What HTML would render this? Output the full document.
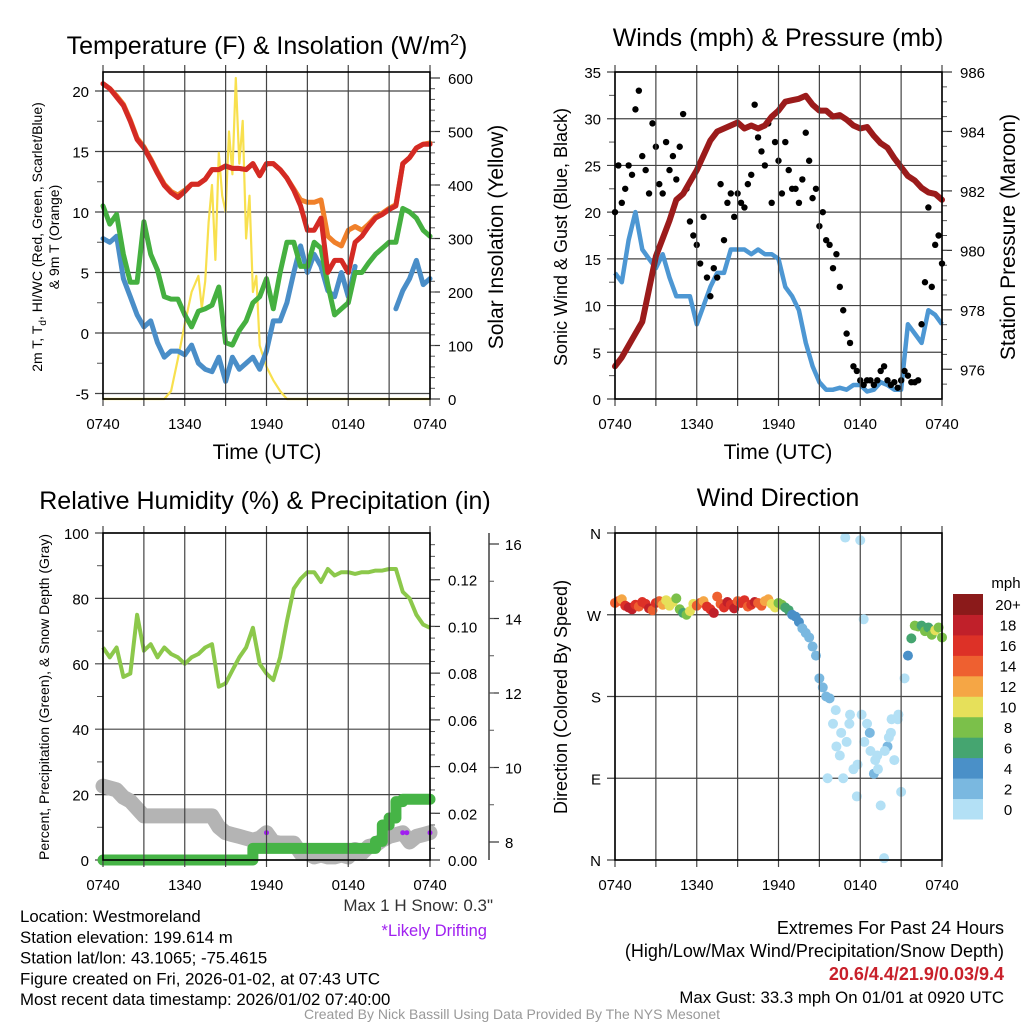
<!DOCTYPE html>
<html><head><meta charset="utf-8"><style>
body{margin:0;background:#fff;}
svg{display:block;font-family:"Liberation Sans",Arial,sans-serif;}
</style></head><body>
<svg id="s" width="1024" height="1024" viewBox="0 0 1024 1024"></svg>
<script>
// ---------- DATA ----------
const timeLabels=["0740","1340","1940","0140","0740"];
const halfHours=[0,0.5,1,1.5,2,2.5,3,3.5,4,4.5,5,5.5,6,6.5,7,7.5,8,8.5,9,9.5,10,10.5,11,11.5,12,12.5,13,13.5,14,14.5,15,15.5,16,16.5,17,17.5,18,18.5,19,19.5,20,20.5,21,21.5,22,22.5,23,23.5,24];
const temp2m=[20.6,20.2,19.5,18.8,17.5,16,15.3,14.3,13.2,12.2,11.6,11.2,11.7,12.3,12.3,12.7,13.5,13.5,13.8,13.6,13.6,13.5,14,13,14,14,13.5,12.8,11.8,10.5,8.5,8.5,9.5,5,6,6,5,7.5,8,8.8,9.5,9.8,10.2,10.5,14,14.5,15.3,15.6,15.6];
const temp9m=[20.6,20.2,19.6,18.9,17.6,16.1,15.4,14.4,13.3,12.3,11.7,11.4,11.8,12.3,12.3,12.7,13.5,13.5,13.8,13.6,13.6,13.5,14,13,14,14,13.5,12.8,11.9,11,10.8,10.8,11,8,7.5,7.2,8.5,8.8,8.5,9,9.6,9.9,10.3,10.6,14,14.5,15.3,15.6,15.7];
const dewpoint=[10.5,9,9.8,6.5,4.2,4.2,9.2,6.5,5.2,3,2.8,2.8,1.5,0.5,1.8,2,2.3,3.8,-0.8,-1,0.2,1,2.5,3,4.5,2,5,7.5,7.5,5.5,5.5,7.5,7,4,1.5,2,2.5,5,5,5.8,6.5,7,7.5,7.5,10.3,10,9.5,8.5,8];
const windChill=[7.8,7.5,8,4.5,3,1.5,0.5,1,-0.8,-2,-1.5,-1.5,-1.8,-1,-2.5,-3,-3.2,-2,-4,-2,-3,-2.5,-2,-3,-1.5,1,1,2.5,5,7.2,5,6.5,5.5,3.5,3,5,3,5.5,null,null,null,7.5,null,2,3.5,4.5,6,4,4.5];
const insTimes=[0,4.5,5,5.5,6,6.5,7,7.25,7.5,7.75,8,8.25,8.5,8.75,9,9.25,9.5,9.75,10,10.25,10.5,10.75,11,11.25,11.5,12,12.5,13,13.5,14,24];
const insValues=[0,0,15,75,140,200,230,170,220,330,400,260,460,380,350,500,420,600,440,520,300,380,200,230,100,60,35,15,0,0,0];
const windSpeed=[13.5,12.5,17,20,16,15,14,15.5,13,11,11,11,8,10,12,13.5,13.5,16,16,16,15.5,16,15.5,15.5,15,12,11,9.5,6,3.5,1.8,1,1,1.2,1,1.5,1.5,0.8,1,1.8,1.5,1,1,8,7,6,9.5,9,8];
const gustValues=[20,25,21,22.5,25,24,31,33,26,24.5,22,29.5,27,23,22,27.5,24.5,26,23.5,27,30.5,22.5,19,17.5,16.5,14.5,19.5,13,11,14,13,23,17,21,22,19.5,22,21,20.5,23,24,31.5,28,26.5,25,29.5,21,27.5,25.5,22,27.5,24.5,22.5,22.5,21,23.5,28.5,25.5,21.5,22.5,18.5,20,17,16.5,14,15.5,12,9.5,7,6,3.5,3,2,1.5,2,2,1.5,2,3,3.5,2,1.5,1.8,1.2,2,3,2.5,1.8,1.8,2,8,12.5,20.5,12,16.5,17.5,14.5];
const pressure=[976.1,976.4,976.8,977.2,977.6,978.7,979.8,980.4,981,981.7,981.9,982.3,982.7,983.2,983.7,984,984.1,984.2,984.3,984.1,984.2,984.1,984.2,984.5,984.7,985,985.05,985.1,985.2,984.9,984.7,984.7,984.5,984.55,984.4,984.2,984.1,984.15,983.85,983.6,983.45,983.1,982.8,982.5,982.35,982.1,981.95,981.9,981.7];
const relHum=[65,62,65,56,57,75,64,66,62,65,63,62,60,62,63,65,66,53,54,58,62,65,71,60,57,55,62,73,83,86,88,88,85,89,87,88,88,87.5,88,88,88.5,88.5,89,89,82,80,75,72,71];
const precip=[0,0,0,0,0,0,0,0,0,0,0,0,0,0,0,0,0,0,0,0,0,0,0.005,0.005,0.005,0.005,0.005,0.005,0.005,0.005,0.005,0.005,0.005,0.005,0.005,0.005,0.005,0.005,0.005,0.005,0.008,0.015,0.018,0.025,0.026,0.026,0.026,0.026,0.026];
const snowDepth=[9.5,9.45,9.4,9.2,9.1,8.9,8.7,8.7,8.7,8.7,8.7,8.7,8.7,8.7,8.7,8.7,8.7,8.4,8.25,8.2,8.15,8.1,8.05,8.1,8.25,8.0,7.97,7.97,7.97,7.7,7.7,7.6,7.65,7.6,7.6,7.65,7.6,7.8,7.7,7.88,7.92,8.05,8.15,8.2,8.25,8.0,8.15,8.2,8.25];
const driftTimes=[12,22,22.3,24];
const driftDepth=[8.25,8.25,8.25,8.25];
const dirValues=[283,285,287,280,278,276,281,279,284,282,277,275,283,285,281,286,280,284,288,276,272,270,274,282,280,283,285,279,276,272,290,282,278,284,281,277,285,283,286,279,281,284,283,280,285,287,282,278,283,281,278,275,270,268,262,255,250,245,235,225,200,190,180,178,150,125,115,90,130,160,100,70,352,265,150,120,95,115,60,2,125,140,110,155,75,200,225,244,258,257,258,252,256,248,253,256,245];
const dirSpeeds=[14,15,13,16,18,19,17,15,16,17,19,15,16,14,12,10,11,10,9,8,7,8,10,11,14,15,13,16,17,18,15,14,16,19,17,18,15,16,17,14,16,18,15,14,13,12,10,11,9,8,7,6,5,4,4,3,3,2,3,2,3,3,2,3,1,0,1,0,1,0,1,0,1,1,0,0,3,1,0,1,3,0,1,0,1,0,4,6,8,8,7,8,7,9,10,8,8];
const extraDirTimes=[16.2,16.6,17.2,17.8,18.3,18.7,19.3,19.8,20.3,20.8,15.6,16.9,18.1,19.1,20.1];
const extraDirValues=[165,140,150,105,130,140,100,120,155,160,90,355,160,110,135];
const extraDirSpeeds=[0,1,0,1,0,3,1,0,1,0,0,0,1,0,1];
const speedBinLabels=["0","2","4","6","8","10","12","14","16","18","20+"];
const speedColors=["#b3e0f5","#7ab8e0","#4a90c8","#45a570","#7bc04a","#e6e05a","#f5a645","#ee6030","#dd3127","#c0202a","#8b1a1a"];

// ---------- HELPERS ----------
const NS="http://www.w3.org/2000/svg";
const svg=document.getElementById('s');
function el(tag,attrs,parent){const e=document.createElementNS(NS,tag);for(const k in attrs)e.setAttribute(k,attrs[k]);(parent||svg).appendChild(e);return e;}
function txt(str,x,y,size,anchor,extra,parent){const t=el('text',Object.assign({x:x,y:y,'font-size':size,'text-anchor':anchor||'middle',fill:'#000'},extra||{}),parent);t.textContent=str;return t;}
function lin(d0,d1,r0,r1){return v=>r0+(v-d0)/(d1-d0)*(r1-r0);}
function pathFrom(xs,ys,xf,yf){let d="",pen=false;for(let i=0;i<xs.length;i++){if(ys[i]===null){pen=false;continue;}d+=(pen?"L":"M")+xf(xs[i]).toFixed(1)+","+yf(ys[i]).toFixed(1);pen=true;}return d;}
function stepPath(xs,ys,xf,yf){let d="";for(let i=0;i<xs.length;i++){const x=xf(xs[i]),y=yf(ys[i]);if(i===0)d="M"+x+","+y;else d+="L"+x+","+yf(ys[i-1])+"L"+x+","+y;}return d;}

function frame(L,R,T,B,name){
  const g=el('g',{});
  
  
  const xf=lin(0,24,L,R);
  for(let h=0;h<=24;h+=3){el('line',{x1:xf(h),x2:xf(h),y1:T-7,y2:B+7,stroke:'#444','stroke-width':1.2},g);}
  el('rect',{x:L,y:T,width:R-L,height:B-T,fill:'none',stroke:'#000','stroke-width':1.6},g);
  for(let i=0;i<5;i++){const t=txt(timeLabels[i],xf(i*6),B+30,15,'middle',{},g);}
  return xf;
}
function hgrid(L,R,yf,vals,labels,g){for(let i=0;i<vals.length;i++){el('line',{x1:L-8,x2:R,y1:yf(vals[i]),y2:yf(vals[i]),stroke:'#444','stroke-width':1.2},g);const t=txt(labels[i],L-14,yf(vals[i])+6,15,'end',{},g);}}
function minor(x,yf,vals,dir,len,g){for(const v of vals)el('line',{x1:x,x2:x+dir*len,y1:yf(v),y2:yf(v),stroke:'#555','stroke-width':1},g);}
function rightTicks(x,yf,vals,labels,g){for(let i=0;i<vals.length;i++){el('line',{x1:x,x2:x+10,y1:yf(vals[i]),y2:yf(vals[i]),stroke:'#333','stroke-width':1.2},g);const t=txt(labels[i],x+18,yf(vals[i])+6,15,'start',{},g);}}
function rng(a,b,s){const r=[];for(let v=a;v<=b+1e-9;v+=s)r.push(+v.toFixed(4));return r;}

// ---------- PANEL 1 ----------
(function(){
  const L=103,R=430,T=72,B=399;
  const g=el('g',{});
  const xf=frame(L,R,T,B,'temperature');
  const yf=lin(0,20,333,91);
  const yr=lin(0,600,399,78);
  hgrid(L,R,yf,[20,15,10,5,0,-5],["20","15","10","5","0","-5"],g);
  minor(L,yf,rng(-2.5,17.5,5),-1,6,g);
  rightTicks(R,yr,[0,100,200,300,400,500,600],["0","100","200","300","400","500","600"],g);
  minor(R,yr,rng(20,580,20),1,5,g);
  const ins=el('path',{d:pathFrom(insTimes,insValues,xf,yr),fill:'none',stroke:'#f8e04e','stroke-width':2.2,'stroke-linejoin':'round'},g);
  
  const series=[[windChill,'#4a8ec8','wind-chill-line'],[dewpoint,'#45b040','dewpoint-line'],[temp9m,'#f0802a','temp-9m-line'],[temp2m,'#d42a24','temp-2m-line']];
  for(const s of series){const p=el('path',{d:pathFrom(halfHours,s[0],xf,yf),fill:'none',stroke:s[1],'stroke-width':5,'stroke-linejoin':'round','stroke-linecap':'round'},g);}
  const t1=el('text',{x:267,y:54,'font-size':25,'text-anchor':'middle'},g);t1.innerHTML='Temperature (F) &amp; Insolation (W/m<tspan dy="-9" font-size="16">2</tspan><tspan dy="9">)</tspan>';
  
  const xl=txt('Time (UTC)',267,459,21,'middle',{},g);
  const yl=el('text',{x:0,y:0,'font-size':14,'text-anchor':'middle',transform:'translate(42,237) rotate(-90)'},g);
  yl.innerHTML='2m T, T<tspan dy="4" font-size="10">d</tspan><tspan dy="-4">, HI/WC (Red, Green, Scarlet/Blue)</tspan>';
  
  const yl2=txt('& 9m T (Orange)',0,0,14,'middle',{transform:'translate(59,237) rotate(-90)'},g);
  const yr2=txt('Solar Insolation (Yellow)',0,0,21,'middle',{transform:'translate(503,237) rotate(-90)'},g);
})();

// ---------- PANEL 2 ----------
(function(){
  const L=615,R=942,T=72,B=399;
  const g=el('g',{});
  const xf=frame(L,R,T,B,'wind');
  const yf=lin(0,35,399,72);
  const yp=lin(975,986,399,72);
  hgrid(L,R,yf,[0,5,10,15,20,25,30,35],["0","5","10","15","20","25","30","35"],g);
  minor(L,yf,rng(2.5,32.5,5),-1,6,g);
  rightTicks(R,yp,[976,978,980,982,984,986],["976","978","980","982","984","986"],g);
  minor(R,yp,rng(975.5,985.5,0.5),1,5,g);
  const ws=el('path',{d:pathFrom(halfHours,windSpeed,xf,yf),fill:'none',stroke:'#4d97d3','stroke-width':4.5,'stroke-linejoin':'round'},g);
  
  for(let i=0;i<gustValues.length;i++){const c=el('circle',{cx:xf(i*0.25),cy:yf(gustValues[i]),r:3.2,fill:'#000'},g);
    
    }
  const pr=el('path',{d:pathFrom(halfHours,pressure,xf,yp),fill:'none',stroke:'#9b1b1b','stroke-width':6,'stroke-linejoin':'round','stroke-linecap':'round'},g);
  
  const t=txt('Winds (mph) & Pressure (mb)',778,46,25,'middle',{},g);
  const xl=txt('Time (UTC)',778,459,21,'middle',{},g);
  const yl=txt('Sonic Wind & Gust (Blue, Black)',0,0,18,'middle',{transform:'translate(567,237) rotate(-90)'},g);
  const yr2=txt('Station Pressure (Maroon)',0,0,21,'middle',{transform:'translate(1015,237) rotate(-90)'},g);
})();

// ---------- PANEL 3 ----------
(function(){
  const L=103,R=430,T=533,B=860;
  const g=el('g',{});
  const xf=frame(L,R,T,B,'humidity');
  const yf=lin(0,100,860,533);
  const yp=lin(0,0.14,860,533);
  const ys=lin(8,16,842,544);
  hgrid(L,R,yf,[0,20,40,60,80,100],["0","20","40","60","80","100"],g);
  minor(L,yf,rng(10,90,20),-1,6,g);
  rightTicks(R,yp,[0,0.02,0.04,0.06,0.08,0.1,0.12],["0.00","0.02","0.04","0.06","0.08","0.10","0.12"],g);
  minor(R,yp,rng(0.005,0.135,0.005),1,5,g);
  el('line',{x1:489,x2:489,y1:533,y2:860,stroke:'#333','stroke-width':1.4},g);
  for(const v of [8,10,12,14,16]){el('line',{x1:489,x2:499,y1:ys(v),y2:ys(v),stroke:'#333','stroke-width':1.2},g);const t=txt(String(v),505,ys(v)+6,15,'start',{},g);}
  minor(489,ys,rng(9,15,1),1,5,g);
  const sd=el('path',{d:pathFrom(halfHours,snowDepth,xf,ys),fill:'none',stroke:'#b4b4b4','stroke-width':15,'stroke-linejoin':'round','stroke-linecap':'round'},g);
  
  for(let i=0;i<driftTimes.length;i++){const c=el('circle',{cx:xf(driftTimes[i]),cy:ys(driftDepth[i]),r:2.5,fill:'#a020f0'},g);
    
    }
  const pp=el('path',{d:stepPath(halfHours,precip,xf,yp),fill:'none',stroke:'#46b446','stroke-width':11,'stroke-linejoin':'round','stroke-linecap':'round'},g);
  
  const rh=el('path',{d:pathFrom(halfHours,relHum,xf,yf),fill:'none',stroke:'#8cc84b','stroke-width':4,'stroke-linejoin':'round'},g);
  
  const t=txt('Relative Humidity (%) & Precipitation (in)',265,509,25,'middle',{},g);
  const yl=txt('Percent, Precipitation (Green), & Snow Depth (Gray)',0,0,14,'middle',{transform:'translate(49,697) rotate(-90)'},g);
})();

// ---------- PANEL 4 ----------
(function(){
  const L=615,R=942,T=533,B=860;
  const g=el('g',{});
  const xf=frame(L,R,T,B,'direction');
  const yf=lin(0,360,860,533);
  hgrid(L,R,yf,[0,90,180,270,360],["N","E","S","W","N"],g);
  function col(s){return speedColors[Math.min(10,Math.floor(s/2))];}
  for(let i=0;i<dirValues.length;i++){const c=el('circle',{cx:xf(i*0.25),cy:yf(dirValues[i]),r:5,fill:col(dirSpeeds[i])},g);
    
    }
  for(let i=0;i<extraDirTimes.length;i++){const c=el('circle',{cx:xf(extraDirTimes[i]),cy:yf(extraDirValues[i]),r:5,fill:col(extraDirSpeeds[i])},g);
    
    }
  const cb=el('g',{},g);
  const h=225/11;
  for(let i=0;i<11;i++){const y=594+(10-i)*h;el('rect',{x:953,y:y,width:30,height:h+0.5,fill:speedColors[i]},cb);
    const t=txt(speedBinLabels[i],1008,y+h/2+6,15,'middle',{},cb);}
  const u=txt('mph',1006,588,15,'middle',{},cb);
  const t=txt('Wind Direction',778,506,25,'middle',{},g);
  const yl=txt('Direction (Colored By Speed)',0,0,18,'middle',{transform:'translate(567,697) rotate(-90)'},g);
})();

// ---------- FOOTER ----------
(function(){
  const g=el('g',{});
  const lines=["Location: Westmoreland","Station elevation: 199.614 m","Station lat/lon: 43.1065; -75.4615","Figure created on Fri, 2026-01-02, at 07:43 UTC","Most recent data timestamp: 2026/01/02 07:40:00"];
  for(let i=0;i<lines.length;i++){const t=txt(lines[i],20,922+i*20.8,16.8,'start',{},g);}
  let t=txt('Max 1 H Snow: 0.3"',493,911,17,'end',{fill:'#333'},g);
  t=txt('*Likely Drifting',487,936,16.5,'end',{fill:'#a020f0'},g);
  t=txt('Extremes For Past 24 Hours',1004,934,18,'end',{},g);
  t=txt('(High/Low/Max Wind/Precipitation/Snow Depth)',1004,957,18,'end',{},g);
  t=txt('20.6/4.4/21.9/0.03/9.4',1004,980,18,'end',{fill:'#c8202a','font-weight':'bold'},g);
  t=txt('Max Gust: 33.3 mph On 01/01 at 0920 UTC',1004,1003,16.8,'end',{},g);
  t=txt('Created By Nick Bassill Using Data Provided By The NYS Mesonet',512,1019,14,'middle',{fill:'#999'},g);
})();
</script>
</body></html>
